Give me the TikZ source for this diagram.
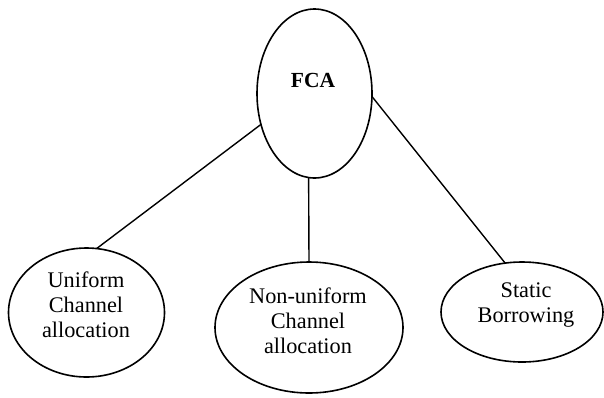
\documentclass[tikz,border=0pt]{standalone}
\usepackage{fontspec}
\setmainfont{Liberation Serif}
\usetikzlibrary{shapes.geometric}

\begin{document}
\begin{tikzpicture}[x=1pt, y=-1pt,
  oval/.style={ellipse, draw, line width=1.6pt, inner sep=0pt, outer sep=0pt},
  caption/.style={align=center, anchor=base, inner sep=0pt,
    font=\fontsize{22.3}{25}\selectfont},
  link/.style={line width=1.4pt}]
  \useasboundingbox (0,0) rectangle (604,397);

  % ovals
  \node[oval, minimum width=115pt, minimum height=169pt] (fca)  at (314.5,93.5) {};
  \node[oval, minimum width=156pt, minimum height=129pt] (uni)  at (86.5,312.5) {};
  \node[oval, minimum width=188pt, minimum height=131pt] (nonu) at (309,327.5) {};
  \node[oval, minimum width=162pt, minimum height=100pt] (stat) at (522,312) {};

  % captions (base anchor sits on the last line)
  \node[caption, font=\fontsize{21.5}{25}\selectfont\bfseries] (fcat) at (313,87) {FCA};
  \node[caption] (unit)  at (86,337)  {Uniform\\Channel\\allocation};
  \node[caption] (nonut) at (308,353) {Non-uniform\\Channel\\allocation};
  \node[caption] (statt) at (526,322) {Static\\Borrowing};

  % connectors
  \draw[link] (fca.210) -- (uni.81.6);
  \draw[link] (fca.266) -- (nonu.90);
  \draw[link] (fca.357) -- (stat.109.2);
\end{tikzpicture}
\end{document}
